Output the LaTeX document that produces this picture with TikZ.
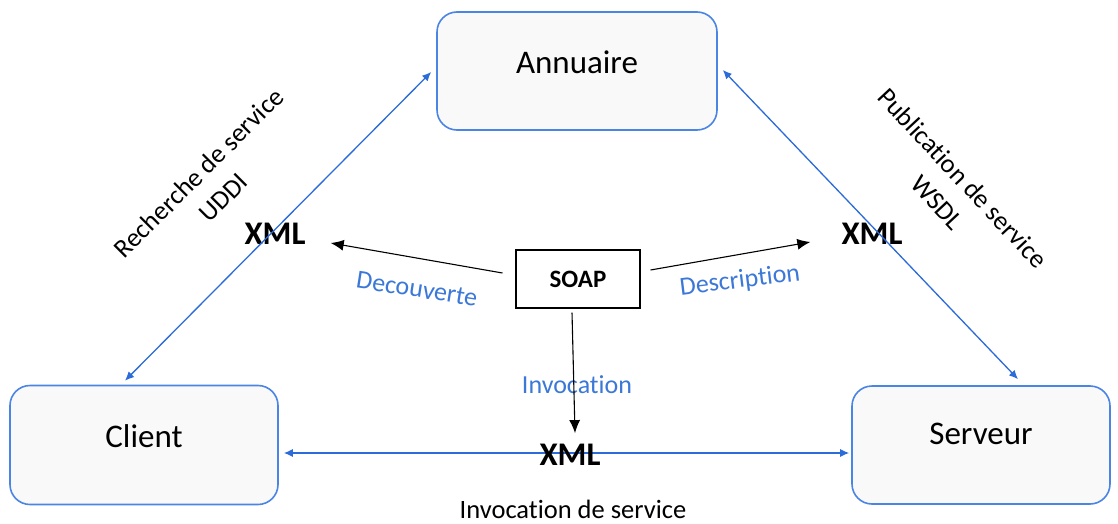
\documentclass[tikz,border=0pt]{standalone}
\usepackage{fontspec}
\setmainfont{Carlito}[Ligatures=NoCommon]
\usetikzlibrary{arrows.meta}
\definecolor{frameblue}{HTML}{4A84E4}
\definecolor{linkblue}{HTML}{2C6BDA}
\definecolor{labelblue}{HTML}{3B78D8}
\definecolor{boxfill}{HTML}{F9F9FA}
\tikzset{
  actor/.style={draw=frameblue, line width=1.6pt, fill=boxfill, rounded corners=20pt,
    inner sep=0pt},
  actorname/.style={font=\fontsize{33}{38}\selectfont, inner sep=0pt},
  soapbox/.style={draw=black, line width=1.1pt, fill=white, minimum width=124pt,
    minimum height=58pt, font=\bfseries\fontsize{25}{28}\selectfont, inner sep=0pt},
  xmltag/.style={font=\bfseries\fontsize{33}{36}\selectfont, inner sep=1pt},
  bluelink/.style={draw=linkblue, line width=1.3pt,
    {Latex[length=9pt,width=8pt]}-{Latex[length=9pt,width=8pt]}},
  soaplink/.style={draw=black, line width=1.1pt, -{Latex[length=13pt,width=11pt]}},
  sidetext/.style={font=\fontsize{26.5}{35}\selectfont, align=center, inner sep=0pt},
  flowtext/.style={font=\fontsize{26}{30}\selectfont, text=labelblue, inner sep=0pt}
}
\begin{document}
\begin{tikzpicture}[x=1pt,y=-1pt]
\useasboundingbox[fill=white] (0,0) rectangle (1118,524);

% the three parties
\node[actor, minimum width=280pt, minimum height=118pt] (annuaire) at (577,71) {};
\node[actor, minimum width=268pt, minimum height=119pt] (client) at (144,445) {};
\node[actor, minimum width=258pt, minimum height=118pt] (serveur) at (981,445) {};
\node[actorname] (annuaireT) at ([yshift=9pt]annuaire.center) {Annuaire};
\node[actorname] (clientT) at ([yshift=9pt]client.center) {Client};
\node[actorname] (serveurT) at ([yshift=11pt]serveur.center) {Serveur};

% protocol box
\node[soapbox] (soap) at (578,279) {SOAP};

% message formats
\node[xmltag] (xmlL) at (275,234) {XML};
\node[xmltag] (xmlR) at (872,234) {XML};

% exchanges between the parties
\draw[bluelink] ([shift={(-19,-4)}]client.north) -- ([shift={(-5,1)}]annuaire.west);
\draw[bluelink] ([shift={(5,-1)}]annuaire.east) -- ([shift={(37,-6)}]serveur.north);
\draw[bluelink] ([shift={(5,8)}]client.east) -- ([shift={(-2,8)}]serveur.west);

\node[xmltag] (xmlB) at (570,455) {XML};

% SOAP roles
\draw[soaplink] ([shift={(-13,-6)}]soap.west) -- ([shift={(24,9)}]xmlL.east);
\draw[soaplink] ([shift={(10,-9)}]soap.east) -- ([shift={(-30,8)}]xmlR.west);

\node[flowtext] (inv) at (577,385) {Invocation};
\draw[soaplink] ([shift={(-6,4)}]soap.south) -- ([shift={(5,-10)}]xmlB.north);

\node[flowtext, rotate=-9] (dec) at (417,289) {Decouverte};
\node[flowtext, rotate=7] (desc) at (740,281) {Description};

% side captions
\node[sidetext, rotate=45] (rech) at (211,185) {Recherche de service\\UDDI};
\node[sidetext, rotate=-47] (publ) at (950,190) {Publication de service\\WSDL};
\node[sidetext] (invs) at (573,509) {Invocation de service};
\end{tikzpicture}
\end{document}
